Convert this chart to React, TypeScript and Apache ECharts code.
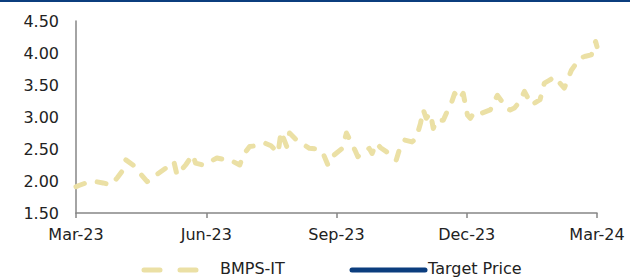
import React, { useEffect, useRef } from "react";
import * as echarts from "echarts";

const START = "2023-03-01";
const tickLabels = ["Mar-23", "Jun-23", "Sep-23", "Dec-23", "Mar-24"];
const yTicks = [1.5, 2.0, 2.5, 3.0, 3.5, 4.0, 4.5];

const dates = [
  "2023-03-01", "2023-03-03", "2023-03-08", "2023-03-15", "2023-03-20", "2023-03-26", "2023-03-30",
  "2023-04-03", "2023-04-05", "2023-04-10", "2023-04-15", "2023-04-20", "2023-04-23", "2023-04-26",
  "2023-05-03", "2023-05-06", "2023-05-09", "2023-05-11", "2023-05-17", "2023-05-22", "2023-05-24", "2023-05-29",
  "2023-06-03", "2023-06-08", "2023-06-12", "2023-06-17", "2023-06-24", "2023-06-27",
  "2023-07-01", "2023-07-06", "2023-07-12", "2023-07-16", "2023-07-21", "2023-07-23", "2023-07-27", "2023-07-29",
  "2023-08-02", "2023-08-05", "2023-08-12", "2023-08-17", "2023-08-21", "2023-08-25", "2023-08-29",
  "2023-09-04", "2023-09-07", "2023-09-13", "2023-09-15", "2023-09-19", "2023-09-23", "2023-09-25", "2023-09-28",
  "2023-10-01", "2023-10-05", "2023-10-09", "2023-10-12", "2023-10-15", "2023-10-18", "2023-10-23", "2023-10-26", "2023-10-29", "2023-10-31",
  "2023-11-02", "2023-11-05", "2023-11-07", "2023-11-09", "2023-11-14", "2023-11-17", "2023-11-20", "2023-11-22", "2023-11-25", "2023-11-28",
  "2023-12-01", "2023-12-03", "2023-12-06", "2023-12-11", "2023-12-17", "2023-12-22", "2023-12-25", "2023-12-28", "2023-12-31",
  "2024-01-03", "2024-01-07", "2024-01-10", "2024-01-15", "2024-01-21", "2024-01-24", "2024-01-28", "2024-01-31",
  "2024-02-07", "2024-02-12", "2024-02-18", "2024-02-22", "2024-02-26", "2024-02-29", "2024-03-01",
];

const bmps = [
  1.91, 1.93, 1.97, 1.99, 1.97, 1.94, 2.05,
  2.17, 2.33, 2.25, 2.12, 1.99, 2.03, 2.09,
  2.20, 2.18, 2.28, 2.09, 2.25, 2.41, 2.28, 2.25,
  2.30, 2.36, 2.34, 2.33, 2.25, 2.42,
  2.54, 2.55, 2.59, 2.55, 2.44, 2.77, 2.54, 2.75,
  2.66, 2.61, 2.51, 2.50, 2.46, 2.25, 2.40,
  2.51, 2.75, 2.48, 2.38, 2.46, 2.51, 2.43, 2.59,
  2.52, 2.46, 2.35, 2.33, 2.55, 2.64, 2.61, 2.67, 2.90, 3.11,
  2.98, 3.06, 2.82, 2.95, 2.95, 3.10, 3.24, 3.37, 3.27, 3.37,
  3.03, 2.98, 3.08, 3.06, 3.11, 3.34, 3.25, 3.14, 3.11,
  3.14, 3.25, 3.40, 3.19, 3.27, 3.53, 3.58, 3.63,
  3.45, 3.73, 3.92, 3.95, 3.97, 4.18, 4.10,
];

const targetPrice: number[] = [];

const DAY = 86400000;
const dayOf = (s: string) => (Date.parse(s) - Date.parse(START)) / DAY;
const END_DAY = dayOf("2024-03-01");

export default function App() {
  const ref = useRef<HTMLDivElement>(null);
  useEffect(() => {
    if (!ref.current) return;
    const chart = echarts.init(ref.current, undefined, { renderer: "svg" });
    const font = "DejaVu Sans";
    const option: any = {
      animation: false,
      backgroundColor: "#ffffff",
      grid: { left: 76, right: 33, top: 21, bottom: 65 },
      xAxis: {
        type: "value",
        min: 0,
        max: END_DAY,
        interval: END_DAY / 4,
        axisLine: { lineStyle: { color: "#868686", width: 1.5 } },
        axisTick: { show: true, length: 5, lineStyle: { color: "#868686", width: 1.5 } },
        splitLine: { show: false },
        axisLabel: {
          margin: 13,
          color: "#222222",
          fontFamily: font,
          fontSize: 16,
          formatter: (v: number) => tickLabels[Math.round(v / (END_DAY / 4))] ?? "",
        },
      },
      yAxis: {
        type: "value",
        min: yTicks[0],
        max: yTicks[yTicks.length - 1],
        interval: 0.5,
        axisLine: { show: true, lineStyle: { color: "#868686", width: 1.5 } },
        axisTick: { show: false },
        splitLine: { show: false },
        axisLabel: {
          margin: 17,
          color: "#222222",
          fontFamily: font,
          fontSize: 16,
          formatter: (v: number) => v.toFixed(2),
        },
      },
      series: [
        {
          name: "BMPS-IT",
          type: "line",
          data: dates.map((d, i) => [dayOf(d), bmps[i]]),
          showSymbol: false,
          symbol: "none",
          lineStyle: { color: "#EBE0A5", width: 5, type: [9, 13], cap: "round", join: "round" },
        },
        {
          name: "Target Price",
          type: "line",
          data: targetPrice,
          showSymbol: false,
          symbol: "none",
          lineStyle: { color: "#0B3D7E", width: 5 },
        },
      ],
      graphic: [
        { type: "rect", left: 0, top: 0, shape: { x: 0, y: 0, width: 630, height: 2 }, style: { fill: "#0B3D7E" } },
        {
          type: "line",
          shape: { x1: 144, y1: 270, x2: 200, y2: 270 },
          style: { stroke: "#EBE0A5", lineWidth: 5, lineCap: "round", lineDash: [16, 20] },
        },
        { type: "text", x: 220, y: 268, style: { text: "BMPS-IT", fill: "#222222", font: `16px "${font}"`, verticalAlign: "middle" } },
        {
          type: "line",
          shape: { x1: 352, y1: 270, x2: 425, y2: 270 },
          style: { stroke: "#0B3D7E", lineWidth: 5, lineCap: "round" },
        },
        { type: "text", x: 428, y: 268, style: { text: "Target Price", fill: "#222222", font: `16px "${font}"`, verticalAlign: "middle" } },
      ],
    };
    chart.setOption(option);
    return () => chart.dispose();
  }, []);
  return (
    <div
      ref={ref}
      style={{ position: "absolute", left: 0, top: 0, width: 630, height: 278, background: "#fff" }}
    />
  );
}
